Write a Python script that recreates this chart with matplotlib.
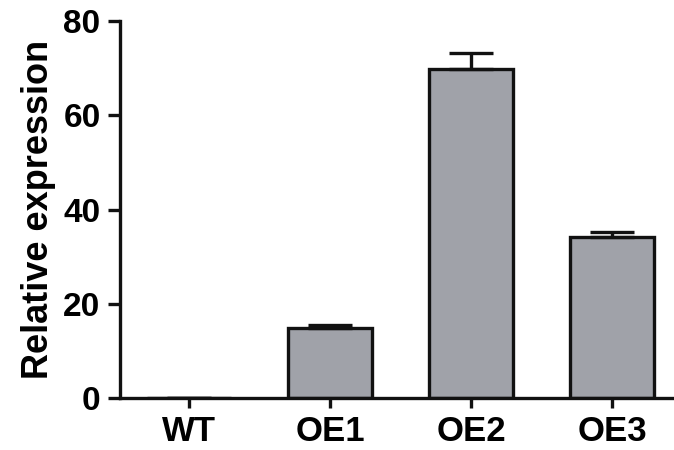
import matplotlib as mpl
import matplotlib.pyplot as plt

mpl.rcParams['font.family'] = ['Liberation Sans', 'DejaVu Sans']
mpl.rcParams['font.weight'] = 'bold'

groups = ['WT', 'OE1', 'OE2', 'OE3']
means = [0.0, 14.9, 69.8, 34.2]
errs = [0.0, 0.6, 3.4, 1.1]
yticks = [0, 20, 40, 60, 80]

fig = plt.figure(figsize=(6.74, 4.5), dpi=100)
ax = fig.add_axes([0.178, 0.1156, 0.82, 0.8374])

x = list(range(len(groups)))
ax.bar(x, means, width=0.6, color='#a0a2a9', edgecolor='#111111', linewidth=2.4,
       yerr=[[0] * len(errs), errs],
       error_kw=dict(ecolor='#111111', elinewidth=2.4, capsize=16, capthick=2.4),
       zorder=2)

ax.set_xlim(-0.49, 3.43)
ax.set_ylim(0, 80)
ax.set_yticks(yticks)
ax.set_xticks(x)
ax.set_xticklabels(groups)

for side in ['top', 'right']:
    ax.spines[side].set_visible(False)
for side in ['left', 'bottom']:
    ax.spines[side].set_linewidth(2.4)
    ax.spines[side].set_color('#111111')
    ax.spines[side].set_zorder(3)

ax.tick_params(axis='y', direction='out', length=9, width=2.4, pad=5, labelsize=24, color='#111111')
ax.tick_params(axis='x', direction='out', length=7, width=2.4, pad=5, labelsize=25, color='#111111')

ax.set_ylabel('Relative expression', fontsize=26, fontweight='bold', labelpad=5)

fig.savefig('out.png', dpi=100)
